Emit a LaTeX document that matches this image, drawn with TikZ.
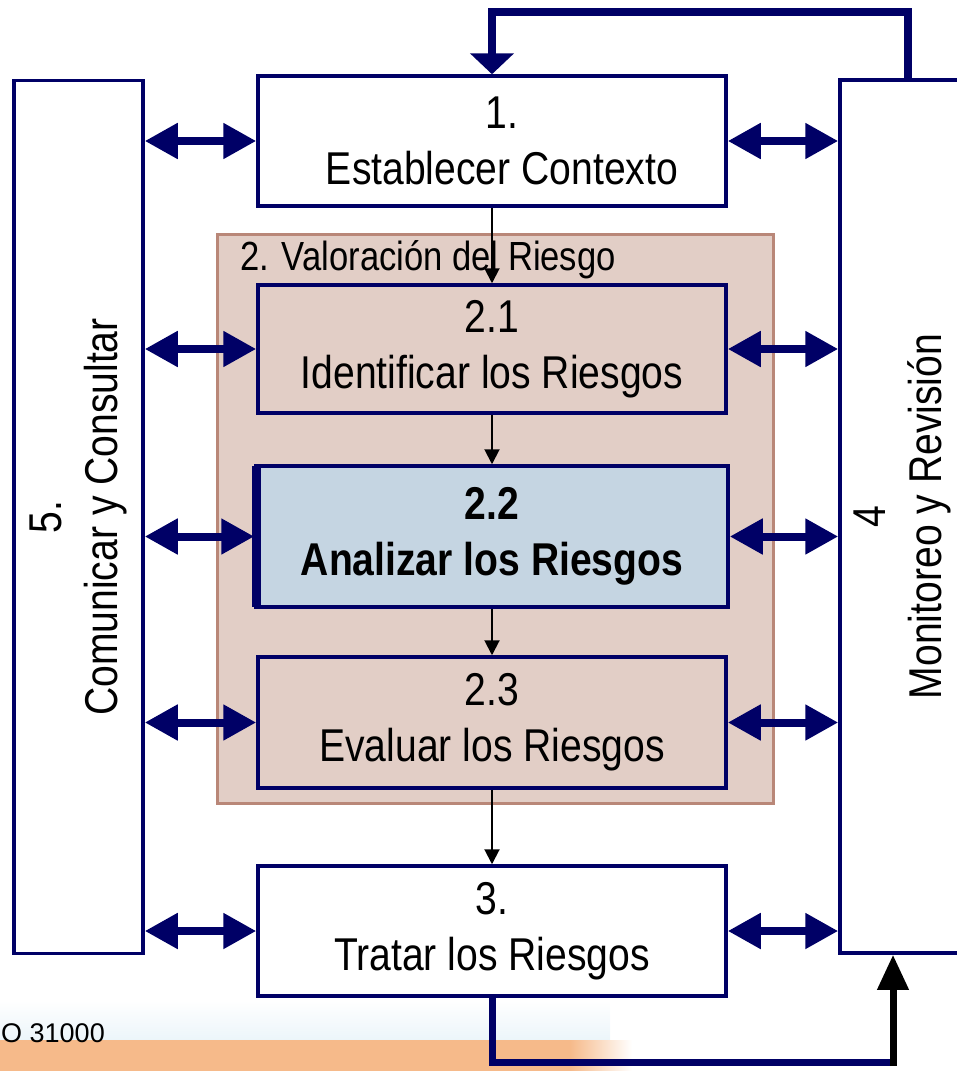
\documentclass[tikz,border=0pt]{standalone}
\usepackage{fontspec}
\setmainfont{Liberation Sans}[FakeStretch=0.85]
\newfontfamily\footfont{Liberation Sans}
\usetikzlibrary{arrows.meta}
\definecolor{navy}{RGB}{0,0,102}
\definecolor{groupfill}{RGB}{226,206,198}
\definecolor{groupline}{RGB}{185,135,120}
\definecolor{focusfill}{RGB}{197,213,226}
\definecolor{bandorange}{RGB}{246,186,138}
\definecolor{bandhaze}{RGB}{236,245,250}

\begin{document}
\begin{tikzpicture}[x=1pt,y=-1pt,
  stepbox/.style={draw=navy, line width=3.5pt, fill=white, minimum width=468pt,
    minimum height=130pt, align=center, inner sep=0pt,
    font=\fontsize{46}{56}\selectfont},
  sidebox/.style={draw=navy, line width=3.5pt, fill=white, minimum height=873pt, inner sep=0pt},
  sidetext/.style={rotate=90, align=center, inner sep=0pt, font=\fontsize{46}{56}\selectfont},
  link/.style={navy, line width=8pt,
    {Triangle[length=33pt,width=34pt]}-{Triangle[length=33pt,width=34pt]}},
  flow/.style={black, line width=2pt, -{Triangle[length=15pt,width=15pt]}},
]
\useasboundingbox (0,0) rectangle (956,1071);

% footer band
\shade[top color=white, bottom color=bandhaze] (0,1000) rectangle (610,1040);
\fill[bandorange] (0,1040) rectangle (570,1071);
\shade[left color=bandorange, right color=white] (570,1040) rectangle (632,1071);
\node[anchor=base east, inner sep=0pt, font=\footfont\fontsize{27}{30}\selectfont] (src) at (105,1042) {ISO 31000};

% risk assessment group
\node[draw=groupline, line width=3pt, fill=groupfill, minimum width=556pt,
  minimum height=569pt, inner sep=0pt] (group) at (495,518.5) {};
\node[anchor=base west, inner sep=0pt, font=\fontsize{40.7}{44}\selectfont] (grouplabel) at (240,270) {2. Valoración del Riesgo};

% process steps
\node[stepbox] (box1) at (492,141) {\hspace*{20pt}1.\\\hspace*{20pt}Establecer Contexto};
\node[stepbox, fill=groupfill, minimum height=128pt] (box21) at (492,349) {2.1\\Identificar los Riesgos};
\node[stepbox, fill=focusfill, minimum width=472pt, minimum height=141pt,
  font=\fontsize{46}{56}\selectfont\bfseries] (box22) at (492,536.5) {2.2\\Analizar los Riesgos};
\draw[navy, line width=9pt] ([xshift=2.5pt,yshift=-2pt]box22.north west) -- ([xshift=2.5pt,yshift=2pt]box22.south west);
\node[stepbox, fill=groupfill, minimum height=131pt] (box23) at (492,722.5) {2.3\\Evaluar los Riesgos};
\node[stepbox] (box3) at (492,931) {3.\\Tratar los Riesgos};

% side processes
\node[sidebox, minimum width=129pt] (comm) at (78.5,517) {};
\node[sidetext] (commtext) at (comm.center) {5.\\Comunicar y Consultar};
\node[sidebox, minimum width=124pt] (mon) at (902,516.5) {};
\node[sidetext] (montext) at (mon.center) {4\\Monitoreo y Revisión};

% two-way links
\foreach \b in {box1,box21,box22,box23,box3} {
  \draw[link] (comm.east |- \b.west) -- (\b.west);
  \draw[link] (\b.east) -- (mon.west |- \b.east);
}

% main flow
\draw[flow] (box1.south) -- (box21.north);
\draw[flow] (box21.south) -- (box22.north);
\draw[flow] (box22.south) -- (box23.north);
\draw[flow] (box23.south) -- (box3.north);

% feedback loops
\coordinate (loopR) at (908,12);
\draw[navy, line width=8pt, -{Triangle[length=21pt,width=43pt]}]
  (loopR |- mon.north) -- (loopR) -| (box1.north);
\coordinate (loopB) at (893,1062);
\draw[navy, line width=7pt] (box3.south) |- ([xshift=3.5pt]loopB);
\draw[black, line width=7pt, -{Triangle[length=35pt,width=30pt]}]
  ([yshift=-4pt]loopB) -- (loopB |- mon.south);
\end{tikzpicture}
\end{document}
